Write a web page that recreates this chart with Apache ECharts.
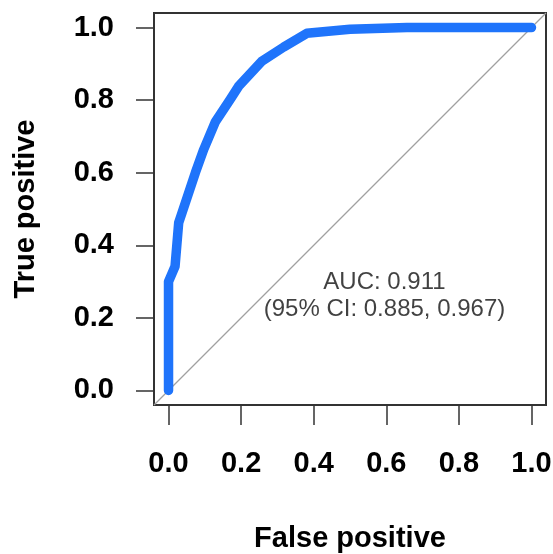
<!DOCTYPE html>
<html>
	<head>
		<meta charset="UTF-8">
		<title>ROC</title>
		<script src="https://cdn.jsdelivr.net/npm/echarts@6/dist/echarts.min.js"></script>
		<style>
			html, body { margin: 0; padding: 0; background: #fff; }
		</style>
	</head>
	<body>
		<div id="roc" style="width: 553px; height: 554px;"></div>
		<script type="text/javascript">
			// ROC curve points
			var fpr = [0, 0, 0.018, 0.028, 0.037, 0.074, 0.097, 0.129, 0.170, 0.193, 0.257, 0.317, 0.381, 0.50, 0.657, 1.0];
			var tpr = [0, 0.30, 0.342, 0.462, 0.489, 0.600, 0.664, 0.740, 0.802, 0.838, 0.907, 0.946, 0.984, 0.995, 1.0, 1.0];
			// reference diagonal, corner to corner of the box
			var diagX = [-0.04, 1.04];
			var diagY = [-0.04, 1.04];
			var tickValues = [0, 0.2, 0.4, 0.6, 0.8, 1.0];
			var aucText = ['AUC: 0.911', '(95% CI: 0.885, 0.967)'];
			var aucPos = [0.595, 0.262];

			var font = 'Liberation Sans, Arial, Helvetica, sans-serif';

			var myChart = echarts.init(document.getElementById('roc'));

			function pairs(xs, ys) {
				return xs.map(function(x, i) { return [x, ys[i]]; });
			}

			// R-style axis: range padded 4% each side, ticks outside the box
			function makeAxis(name, nameGap, tickLen, labelMargin) {
				return {
					type: 'value',
					min: -0.04,
					max: 1.04,
					name: name,
					nameLocation: 'middle',
					nameGap: nameGap,
					nameTextStyle: { fontFamily: font, fontSize: 29, fontWeight: 'bold', color: '#000' },
					splitLine: { show: false },
					axisLine: { show: false, onZero: false },
					axisTick: {
						show: true,
						inside: false,
						length: tickLen,
						customValues: tickValues,
						lineStyle: { color: '#333', width: 1.5 }
					},
					axisLabel: {
						customValues: tickValues,
						margin: labelMargin,
						fontFamily: font,
						fontSize: 29,
						fontWeight: 'bold',
						color: '#000',
						formatter: function(v) { return v.toFixed(1); }
					}
				};
			}

			var option = {
				animation: false,
				backgroundColor: '#fff',
				grid: {
					show: true,
					left: 154,
					right: 7,
					top: 13,
					bottom: 149,
					outerBoundsMode: 'none',
					borderColor: '#333',
					borderWidth: 2,
					backgroundColor: 'transparent'
				},
				xAxis: makeAxis('False positive', 119, 20, 44),
				yAxis: makeAxis('True positive', 114, 18, 40),
				series: [{
					type: 'line',
					data: pairs(diagX, diagY),
					showSymbol: false,
					silent: true,
					clip: false,
					z: 1,
					lineStyle: { color: '#a0a0a0', width: 1.3 }
				}, {
					type: 'line',
					data: pairs(fpr, tpr),
					showSymbol: false,
					silent: true,
					z: 2,
					lineStyle: { color: '#1f74fb', width: 9.5, cap: 'round', join: 'round' }
				}, {
					type: 'scatter',
					data: [aucPos],
					symbolSize: 0,
					silent: true,
					label: {
						show: true,
						position: 'inside',
						formatter: aucText.join('\n'),
						fontFamily: font,
						fontSize: 24,
						lineHeight: 27,
						color: '#111',
						align: 'center',
						verticalAlign: 'middle'
					}
				}]
			};

			myChart.setOption(option);
		</script>
	</body>
</html>
